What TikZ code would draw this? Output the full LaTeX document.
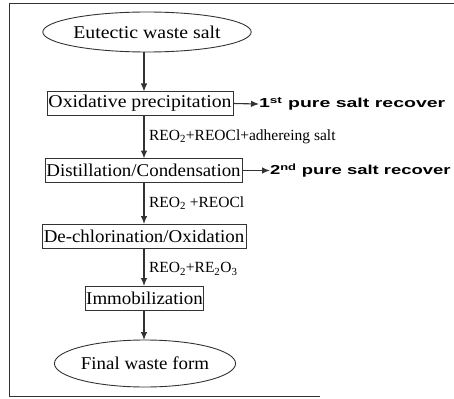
\documentclass[tikz,border=0pt]{standalone}
\usepackage{fontspec}
\usepackage{graphicx}
\setmainfont{Liberation Serif}
\newfontfamily\arialbold[BoldFont={Liberation Sans Bold}]{Liberation Sans}
\usetikzlibrary{shapes.geometric,arrows.meta}
\definecolor{ink}{HTML}{333333}
\newcommand{\stretchtxt}[2]{\scalebox{#1}[1]{#2}}
\begin{document}
\begin{tikzpicture}[x=1pt,y=-1pt,
  every node/.style={inner sep=0pt, outer sep=0pt, text=black},
  stepbox/.style={draw=ink, line width=0.9pt, font=\fontsize{18}{18}\selectfont, inner xsep=1pt, inner ysep=3pt, minimum height=24pt},
  endell/.style={draw=ink, line width=0.9pt, ellipse, font=\fontsize{18}{18}\selectfont, inner sep=0pt},
  flow/.style={draw=ink, line width=1.1pt, -{Latex[length=8pt,width=6.5pt]}},
  lbl/.style={font=\fontsize{15.5}{15.5}\selectfont, anchor=west},
  rec/.style={font=\arialbold\bfseries\fontsize{13}{13}\selectfont, anchor=west}
]
\useasboundingbox (0,0) rectangle (454,398);
\draw[ink, line width=1pt] (454,4) -- (9,4) -- (9,396) -- (320,396);

\node[endell, minimum width=169pt, minimum height=40pt] (e1) at (147,32) {\stretchtxt{1.1}{Eutectic waste salt}};
\node[stepbox, minimum width=186pt] (b1) at (140,103.5) {\stretchtxt{1.1}{Oxidative precipitation}};
\node[stepbox, minimum width=197pt] (b2) at (143.5,170.5) {\stretchtxt{1.05}{Distillation/Condensation}};
\node[stepbox, minimum width=204pt] (b3) at (144,236) {\stretchtxt{1.05}{De-chlorination/Oxidation}};
\node[stepbox, minimum width=117pt] (b4) at (144.5,298) {\stretchtxt{1.05}{Immobilization}};
\node[endell, minimum width=136pt, minimum height=47pt] (e2) at (145,363.5) {\stretchtxt{1.05}{Final waste form}};

\node[rec] (r1) at (259,104) {\stretchtxt{1.5}{1\textsuperscript{st} pure salt recover}};
\node[rec] (r2) at (270,170.5) {\stretchtxt{1.42}{2\textsuperscript{nd} pure salt recover}};

\coordinate (c0) at (144,52);
\draw[flow] (e1.south -| c0) -- (b1.north -| c0);
\draw[flow] (b1.south -| c0) -- node[lbl, pos=0.5, xshift=5pt] (l1) {REO\textsubscript{2}+REOCl+adhereing salt} (b2.north -| c0);
\draw[flow] (b2.south -| c0) -- node[lbl, pos=0.5, xshift=5pt] (l2) {REO\textsubscript{2} +REOCl} (b3.north -| c0);
\draw[flow] (b3.south -| c0) -- node[lbl, pos=0.55, xshift=5pt] (l3) {REO\textsubscript{2}+RE\textsubscript{2}O\textsubscript{3}} (b4.north -| c0);
\draw[flow] (b4.south -| c0) -- (e2.north -| c0);

\draw[flow] (b1.east) -- (r1.west);
\draw[flow] (b2.east) -- (r2.west);
\end{tikzpicture}
\end{document}
